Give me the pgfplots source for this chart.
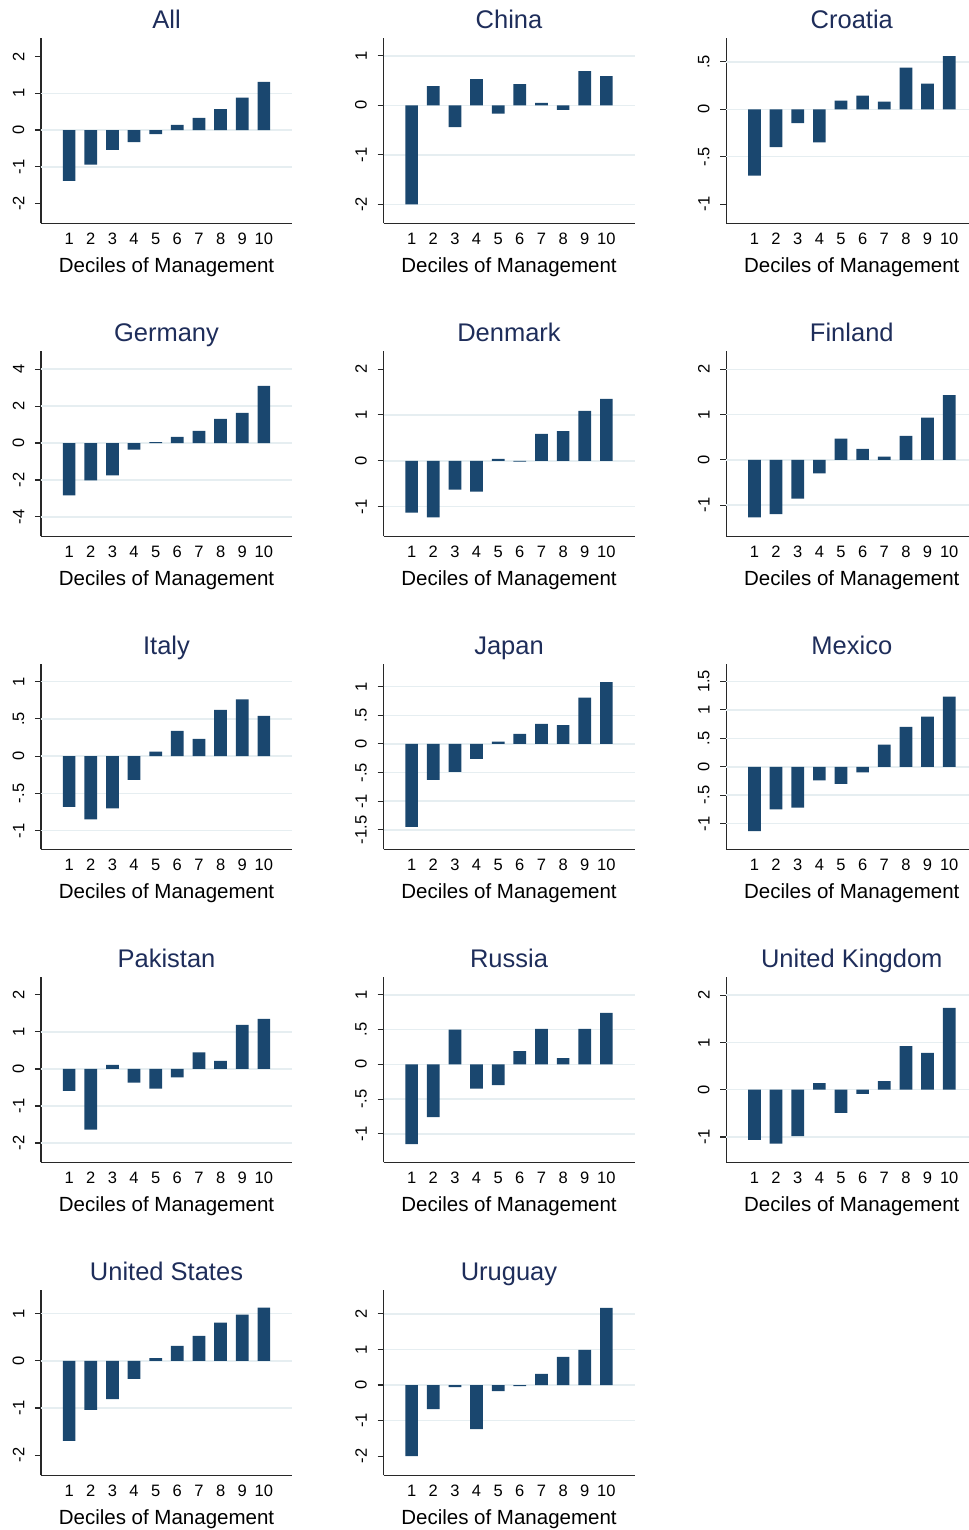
\documentclass[border=0pt]{standalone}
\usepackage{fontspec}
\setmainfont{Liberation Sans}
\usepackage{pgfplots}
\pgfplotsset{compat=1.18}
\definecolor{barcol}{RGB}{26,71,111}
\definecolor{titlecol}{RGB}{30,45,90}
\definecolor{gridcol}{RGB}{230,238,241}
\definecolor{axcol}{RGB}{40,40,40}
\pgfplotsset{
  panel/.style={
    scale only axis, width=251bp, height=185.6bp,
    anchor=north west,
    xmin=-0.3, xmax=11.3,
    xtick={1,...,10}, xticklabels={1,2,3,4,5,6,7,8,9,10},
    x tick style={draw=none},
    axis x line*=bottom, axis y line*=left,
    axis line style={axcol, line width=1.1bp},
    y tick style={axcol, line width=1.1bp},
    tick align=outside, major tick length=6bp,
    xticklabel style={anchor=base, yshift=-15.5bp, inner sep=0pt, font=\fontsize{16.5bp}{18bp}\selectfont},
    yticklabel style={rotate=90, anchor=south, inner xsep=0pt, inner ysep=10.5bp, font=\fontsize{16.5bp}{18bp}\selectfont},
    title style={at={(axis description cs:0.5,1)}, anchor=base, yshift=3.5bp, inner sep=0pt, text=titlecol, font=\fontsize{25.5bp}{28bp}\selectfont},
    xlabel={Deciles of Management},
    xlabel style={at={(axis description cs:0.5,0)}, anchor=base, yshift=-49.2bp, inner sep=0pt, font=\fontsize{20.5bp}{23bp}\selectfont},
    extra y tick labels={},
    extra y tick style={grid=major, major tick length=0pt},
    major grid style={gridcol, line width=1.5bp},
    ybar, bar width=12.7bp,
  },
  bars/.style={fill=barcol, draw=none},
}
\begin{document}
\begin{tikzpicture}
% Row 1
\begin{axis}[panel, at={(41bp,-37.7bp)}, title={All},
  ymin=-2.535, ymax=2.51, ytick={-2,-1,0,1,2}, yticklabels={-2,-1,0,1,2},
  extra y ticks={-1,0,1}]
\addplot[bars] coordinates {(1,-1.38) (2,-0.94) (3,-0.54) (4,-0.33) (5,-0.11) (6,0.14) (7,0.33) (8,0.57) (9,0.88) (10,1.31)};
\end{axis}
\begin{axis}[panel, at={(383.5bp,-37.7bp)}, title={China},
  ymin=-2.384, ymax=1.366, ytick={-2,-1,0,1}, yticklabels={-2,-1,0,1},
  extra y ticks={-2,-1,0,1}]
\addplot[bars] coordinates {(1,-2.0) (2,0.39) (3,-0.44) (4,0.53) (5,-0.17) (6,0.43) (7,0.05) (8,-0.09) (9,0.69) (10,0.59)};
\end{axis}
\begin{axis}[panel, at={(726.3bp,-37.7bp)}, title={Croatia},
  ymin=-1.203, ymax=0.755, ytick={-1,-0.5,0,0.5}, yticklabels={-1,-.5,0,.5},
  extra y ticks={-0.5,0,0.5}]
\addplot[bars] coordinates {(1,-0.70) (2,-0.40) (3,-0.145) (4,-0.35) (5,0.09) (6,0.145) (7,0.08) (8,0.44) (9,0.27) (10,0.56)};
\end{axis}
% Row 2
\begin{axis}[panel, at={(41bp,-350.7bp)}, title={Germany},
  ymin=-5.05, ymax=5.0, ytick={-4,-2,0,2,4}, yticklabels={-4,-2,0,2,4},
  extra y ticks={-4,-2,0,2,4}]
\addplot[bars] coordinates {(1,-2.83) (2,-2.02) (3,-1.75) (4,-0.35) (5,0.05) (6,0.34) (7,0.66) (8,1.31) (9,1.64) (10,3.10)};
\end{axis}
\begin{axis}[panel, at={(383.5bp,-350.7bp)}, title={Denmark},
  ymin=-1.645, ymax=2.40, ytick={-1,0,1,2}, yticklabels={-1,0,1,2},
  extra y ticks={-1,0,1}]
\addplot[bars] coordinates {(1,-1.13) (2,-1.23) (3,-0.63) (4,-0.67) (5,0.04) (6,-0.02) (7,0.59) (8,0.65) (9,1.09) (10,1.35)};
\end{axis}
\begin{axis}[panel, at={(726.3bp,-350.7bp)}, title={Finland},
  ymin=-1.69, ymax=2.41, ytick={-1,0,1,2}, yticklabels={-1,0,1,2},
  extra y ticks={-1,0,1,2}]
\addplot[bars] coordinates {(1,-1.27) (2,-1.20) (3,-0.86) (4,-0.30) (5,0.47) (6,0.24) (7,0.07) (8,0.53) (9,0.93) (10,1.43)};
\end{axis}
% Row 3
\begin{axis}[panel, at={(41bp,-663.7bp)}, title={Italy},
  ymin=-1.25, ymax=1.24, ytick={-1,-0.5,0,0.5,1}, yticklabels={-1,-.5,0,.5,1},
  extra y ticks={-1,-0.5,0,0.5,1}]
\addplot[bars] coordinates {(1,-0.68) (2,-0.85) (3,-0.70) (4,-0.32) (5,0.06) (6,0.34) (7,0.23) (8,0.62) (9,0.76) (10,0.54)};
\end{axis}
\begin{axis}[panel, at={(383.5bp,-663.7bp)}, title={Japan},
  ymin=-1.84, ymax=1.40, ytick={-1.5,-1,-0.5,0,0.5,1}, yticklabels={-1.5,-1,-.5,0,.5,1},
  extra y ticks={-1.5,-1,-0.5,0,0.5,1}]
\addplot[bars] coordinates {(1,-1.45) (2,-0.63) (3,-0.49) (4,-0.26) (5,0.04) (6,0.175) (7,0.35) (8,0.33) (9,0.81) (10,1.08)};
\end{axis}
\begin{axis}[panel, at={(726.3bp,-663.7bp)}, title={Mexico},
  ymin=-1.45, ymax=1.81, ytick={-1,-0.5,0,0.5,1,1.5}, yticklabels={-1,-.5,0,.5,1,1.5},
  extra y ticks={-1,-0.5,0,0.5,1,1.5}]
\addplot[bars] coordinates {(1,-1.13) (2,-0.75) (3,-0.72) (4,-0.24) (5,-0.30) (6,-0.10) (7,0.39) (8,0.70) (9,0.88) (10,1.23)};
\end{axis}
% Row 4
\begin{axis}[panel, at={(41bp,-976.7bp)}, title={Pakistan},
  ymin=-2.52, ymax=2.49, ytick={-2,-1,0,1,2}, yticklabels={-2,-1,0,1,2},
  extra y ticks={-2,-1,0,1}]
\addplot[bars] coordinates {(1,-0.59) (2,-1.64) (3,0.11) (4,-0.37) (5,-0.53) (6,-0.23) (7,0.45) (8,0.22) (9,1.19) (10,1.35)};
\end{axis}
\begin{axis}[panel, at={(383.5bp,-976.7bp)}, title={Russia},
  ymin=-1.41, ymax=1.26, ytick={-1,-0.5,0,0.5,1}, yticklabels={-1,-.5,0,.5,1},
  extra y ticks={-1,-0.5,0,0.5,1}]
\addplot[bars] coordinates {(1,-1.15) (2,-0.76) (3,0.50) (4,-0.35) (5,-0.30) (6,0.19) (7,0.51) (8,0.09) (9,0.51) (10,0.74)};
\end{axis}
\begin{axis}[panel, at={(726.3bp,-976.7bp)}, title={United Kingdom},
  ymin=-1.535, ymax=2.39, ytick={-1,0,1,2}, yticklabels={-1,0,1,2},
  extra y ticks={-1,0,1,2}]
\addplot[bars] coordinates {(1,-1.06) (2,-1.14) (3,-0.98) (4,0.14) (5,-0.49) (6,-0.09) (7,0.18) (8,0.92) (9,0.78) (10,1.73)};
\end{axis}
% Row 5
\begin{axis}[panel, at={(41bp,-1289.7bp)}, title={United States},
  ymin=-2.43, ymax=1.51, ytick={-2,-1,0,1}, yticklabels={-2,-1,0,1},
  extra y ticks={-1,0,1}]
\addplot[bars] coordinates {(1,-1.70) (2,-1.04) (3,-0.81) (4,-0.38) (5,0.06) (6,0.32) (7,0.53) (8,0.81) (9,0.98) (10,1.13)};
\end{axis}
\begin{axis}[panel, at={(383.5bp,-1289.7bp)}, title={Uruguay},
  ymin=-2.54, ymax=2.68, ytick={-2,-1,0,1,2}, yticklabels={-2,-1,0,1,2},
  extra y ticks={-1,0,1,2}]
\addplot[bars] coordinates {(1,-2.0) (2,-0.68) (3,-0.06) (4,-1.24) (5,-0.17) (6,-0.03) (7,0.31) (8,0.79) (9,0.99) (10,2.17)};
\end{axis}
\pgfresetboundingbox
\path[use as bounding box] (0,0) rectangle (969bp,-1530bp);
\end{tikzpicture}
\end{document}
